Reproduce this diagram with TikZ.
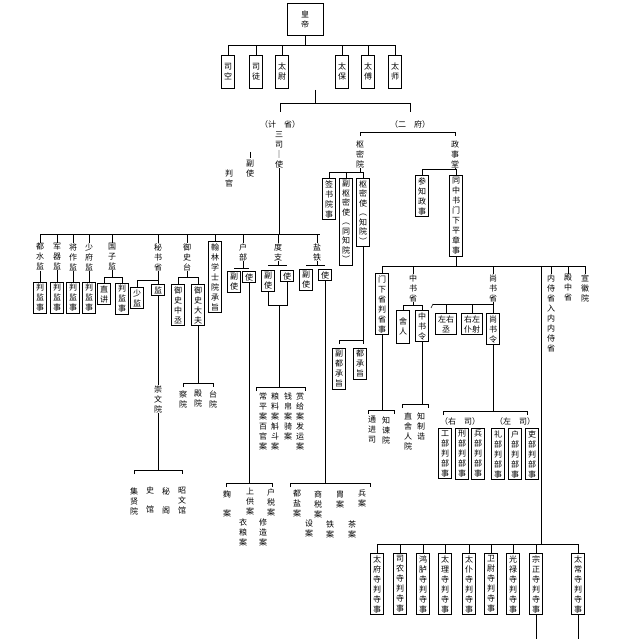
\documentclass[tikz,border=0pt]{standalone}
\usepackage{fontspec}
\newfontfamily\cjk{Noto Sans CJK SC}
\newcommand\ff{\cjk\fontsize{8}{10}\selectfont}
\newcommand\brk[3]{\draw (#1,#3+4) -- (#1,#3) -- (#2,#3) -- (#2,#3+4);}
\begin{document}
\begin{tikzpicture}[x=1pt,y=-1pt,line width=0.6pt,
 bx/.style={draw,anchor=north,inner xsep=2.5pt,inner ysep=2pt,align=center,font=\ff},
 tx/.style={anchor=north,inner sep=0pt,align=center,font=\ff},
 lb/.style={inner sep=0pt,font=\ff}]
\useasboundingbox[fill=white] (0,0) rectangle (640,639);
% top
\node[draw,minimum width=36pt,minimum height=32pt,align=center,font=\ff] (hd) at (305,19) {皇\\帝};
\foreach \n/\x/\t in {sk/228/司\\空,st/256/司\\徒,tw/282/太\\尉,tb/342/太\\保,tf/368/太\\傅,ts/395/太\\师}{
 \node[bx,minimum height=33pt] (\n) at (\x,55) {\t};
 \draw (\n.north) -- ++(0,-10);}
\draw (hd.south) -- (305,45); \draw (228,45) -- (395,45);
\draw (315,90) -- (315,103); \draw (280,103) -- (410,103);
\draw (280,103) -- (280,112); \draw (410,103) -- (410,112);
\node[lb] (jis) at (280,124) {（计\quad 省）};
\node[lb] (erf) at (410,124) {（二\quad 府）};
\node[tx] (ssu) at (279,131) {三\\司\\｜\\使};
\node[tx] (fs) at (250,160) {副\\使};
\draw (250,152) -- (250,158);
\node[tx] (pg) at (229,170) {判\\官};
\draw (ssu.south) -- (279,234);
% left bar
\draw (40,234) -- (320,234);
\foreach \n/\x/\t in {dsj/40/都\\水\\监,jqj/57/军\\器\\监,jzj/73/将\\作\\监,sfj/89/少\\府\\监,gzj/112/国\\子\\监,msh/158/秘\\书\\省,yst/187/御\\史\\台,hb/243/户\\部,dz/278/度\\支,yt/317/盐\\铁}{
 \node[tx] (\n) at (\x,243) {\t};
 \draw (\n.north) -- ++(0,-9);}
\node[bx] (hl) at (215,241) {翰\\林\\学\\士\\院\\承\\旨}; \draw (hl.north) -- ++(0,-7);
\foreach \n/\p in {pa/dsj,pb/jqj,pc/jzj,pd/sfj}{
 \node[bx] (\n) at (\p.south |- 0,282) {判\\监\\事};
 \draw (\p.south) -- (\n.north);}
% guozijian
\draw (gzj.south) -- (112,277); \draw (104,277) -- (122,277);
\node[bx] (zj) at (104,283) {直\\讲}; \node[bx] (gp) at (122,283) {判\\监\\事};
\draw (zj.north) -- ++(0,-6); \draw (gp.north) -- ++(0,-6);
% mishusheng
\draw (msh.south) -- (158,280); \draw (137,280) -- (158,280);
\node[bx] (sj) at (137,287) {少\\监}; \node[bx] (jian) at (158,284) {监};
\draw (sj.north) -- ++(0,-7); \draw (jian.north) -- ++(0,-4);
\node[tx] (cwy) at (158,385) {崇\\文\\院};
\draw (jian.south) -- (cwy.north); \draw (cwy.south) -- (158,470);
\brk{134}{182}{470}
\node[tx] (jxy) at (134,487) {集\\贤\\院};
\node[tx] (sg) at (150,487) {史\\[9pt]馆};
\node[tx] (mg) at (166,487) {秘\\[9pt]阁};
\node[tx] (zwg) at (182,487) {昭\\文\\馆};
% yushitai
\draw (yst.south) -- (187,277); \draw (178,277) -- (198,277);
\node[bx] (yz) at (178,284) {御\\史\\中\\丞}; \node[bx] (yd) at (198,284) {御\\史\\大\\夫};
\draw (yz.north) -- ++(0,-7); \draw (yd.north) -- ++(0,-7);
\draw (yd.south) -- (198,383); \brk{183}{213}{383}
\node[tx] (cy) at (183,390) {察\\院}; \node[tx] (dy) at (198,390) {殿\\院}; \node[tx] (ty) at (213,390) {台\\院};
% hubu
\draw (hb.south) -- (243,268); \draw (234,268) -- (249,268);
\node[bx] (hbf) at (234,271) {副\\使}; \node[bx] (hbs) at (249,271) {使};
\draw (hbs.south) -- (249,483); \brk{226}{272}{483}
\node[tx] (qua) at (227,490) {麴\\[9pt]案};
\node[tx] (sga) at (250,488) {上\\供\\案};
\node[tx] (hsa) at (271,488) {户\\税\\案};
\node[tx] (yla) at (243,518) {衣\\粮\\案};
\node[tx] (xza) at (263,518) {修\\造\\案};
% duzhi
\draw (dz.south) -- (278,265); \draw (268,265) -- (287,265);
\node[bx] (dzf) at (268,270) {副\\使}; \node[bx] (dzs) at (287,270) {使};
\draw (dzf.south) |- (279,305); \draw (dzs.south) |- (279,305); \draw (279,305) -- (279,387);
\brk{256}{305}{387}
\node[tx] (c1) at (263,392) {常\\平\\案\\百\\官\\案};
\node[tx] (c2) at (275,392) {粮\\料\\案\\斛\\斗\\案};
\node[tx] (c3) at (288,392) {钱\\帛\\案\\骑\\案};
\node[tx] (c4) at (300,392) {赏\\给\\案\\发\\运\\案};
% yantie
\draw (yt.south) -- (317,265); \draw (306,265) -- (325,265);
\node[bx] (ytf) at (306,269) {副\\使}; \node[bx] (yts) at (325,269) {使};
\draw (yts.south) -- (325,483); \brk{290}{370}{483}
\node[tx] (e1) at (297,490) {都\\盐\\案};
\node[tx] (e2) at (318,490) {商\\税\\案};
\node[tx] (e3) at (340,490) {胄\\案};
\node[tx] (e4) at (362,490) {兵\\案};
\node[tx] (e5) at (309,520) {设\\案};
\node[tx] (e6) at (330,520) {铁\\案};
\node[tx] (e7) at (352,520) {茶\\案};
% erfu
\brk{360}{455}{132}
\node[tx] (smy) at (360,140) {枢\\密\\院};
\node[tx] (zst) at (455,140) {政\\事\\堂};
\draw (smy.south) -- (360,172); \draw (329,172) -- (363,172);
\node[bx] (qs) at (329,178) {签\\书\\院\\事};
\node[bx,font=\cjk\fontsize{8}{9.5}\selectfont] (fsm) at (346,178) {副\\枢\\密\\使\\︵\\同\\知\\院\\︶};
\node[bx,font=\cjk\fontsize{8}{9.5}\selectfont] (smsz) at (363,178) {枢\\密\\使\\︵\\知\\院\\︶};
\draw (qs.north) -- ++(0,-6); \draw (fsm.north) -- ++(0,-6); \draw (smsz.north) -- ++(0,-6);
\draw (smsz.south) -- (363,340); \brk{339}{363}{340}
\node[bx] (fdc) at (339,348) {副\\都\\承\\旨};
\node[bx] (dcz) at (360,348) {都\\承\\旨};
\draw (zst.south) -- (456,169); \draw (422,169) -- (456,169);
\node[bx] (cz) at (422,175) {参\\知\\政\\事};
\node[bx] (tzs) at (456,175) {同\\中\\书\\门\\下\\平\\章\\事};
\draw (cz.north) -- ++(0,-6); \draw (tzs.north) -- ++(0,-6);
\draw (tzs.south) -- (456,266); \draw (382,266) -- (586,266);
\node[bx] (mx) at (382,273) {门\\下\\省\\判\\省\\事};
\node[tx] (zss) at (413,274) {中\\书\\省};
\node[tx] (sss) at (493,274) {尚\\书\\省};
\node[tx] (nsh) at (551,274) {内\\侍\\省\\入\\内\\内\\侍\\省};
\node[tx] (dzh) at (568,274) {殿\\中\\省};
\node[tx] (xhy) at (585,274) {宣\\徽\\院};
\foreach \n in {mx,zss,sss,nsh,dzh,xhy}{\draw (\n.north) -- (\n.north |- 0,266);}
% zhongshu
\draw (zss.south) -- (413,305); \draw (403,305) -- (422,305);
\node[bx,minimum height=33pt] (sr) at (403,310) {舍\\人};
\node[bx] (zsl) at (422,310) {中\\书\\令};
\draw (sr.north) -- ++(0,-5); \draw (zsl.north) -- ++(0,-5);
\draw (zsl.south) -- (422,404); \brk{402}{428}{404}
\node[tx] (zsr) at (408,412) {直\\舍\\人\\院};
\node[tx] (zzg) at (421,412) {知\\制\\诰};
% menxia
\draw (mx.south) -- (382,410); \brk{368}{394}{410}
\node[tx] (tjs) at (372,416) {通\\进\\司};
\node[tx] (zjy) at (386,416) {知\\谏\\院};
% shangshu
\draw (sss.south) -- (493,304); \draw (433,304) -- (493,304); \draw (433,304) -- (431,308);
\node[bx] (zyc) at (446,313) {左右\\丞};
\node[bx] (ypy) at (472,313) {右左\\仆射};
\node[bx] (ssl) at (493,313) {尚\\书\\令};
\draw (zyc.north) -- ++(0,-9); \draw (ypy.north) -- ++(0,-9); \draw (ssl.north) -- ++(0,-9);
\draw (ssl.south) -- (493,411); \brk{443}{527}{411}
\node[lb] (ys) at (460,421) {（右\quad 司）};
\node[lb] (zs) at (515,421) {（左\quad 司）};
\foreach \n/\x/\t in {gb/445/工,xb/462/刑,bb/478/兵,lbu/498/礼,hbb/515/户,lib/532/吏}{
 \node[bx] (\n) at (\x,428) {\t\\部\\判\\部\\事};}
% si
\draw (nsh.south) ++(-10,0); \draw (541,266) -- (541,544);
\draw (377,544) -- (578,544);
\foreach \n/\x/\t in {tfs/377/太\\府,sns/400/司\\农,hls/423/鸿\\胪,tls/445/太\\理,tps/469/太\\仆,wws/491/卫\\尉,gls/513/光\\禄,zzs/536/宗\\正,tcs/578/太\\常}{
 \node[bx] (\n) at (\x,553) {\t\\寺\\判\\寺\\事};
 \draw (\n.north) -- ++(0,-9);}
\draw (zzs.south) -- (536,639); \draw (tcs.south) -- (578,639);
\end{tikzpicture}
\end{document}
